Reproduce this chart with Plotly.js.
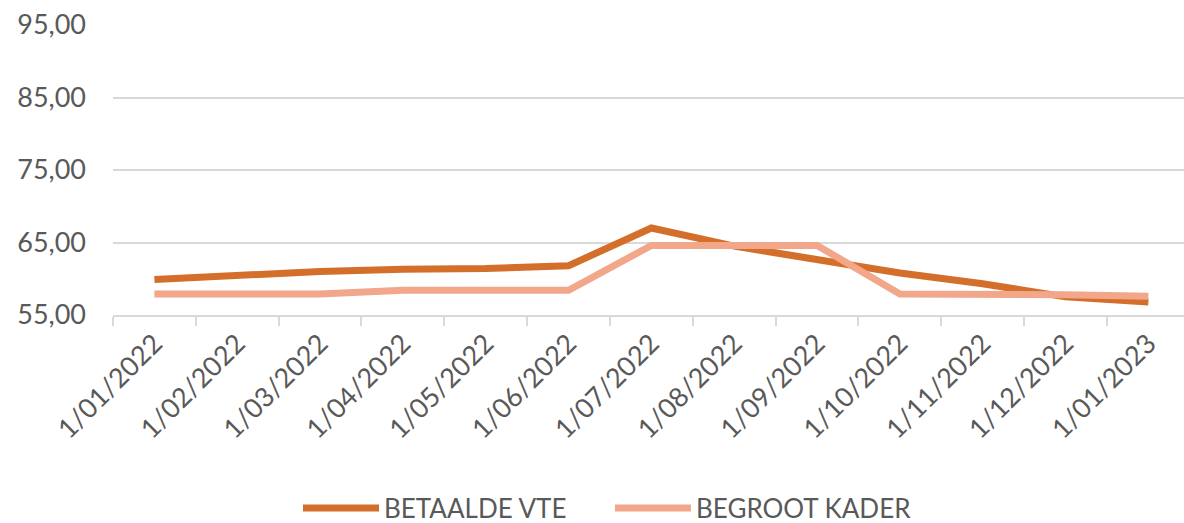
<!DOCTYPE html>
<html>
<head>
<meta charset="utf-8">
<script src="https://cdn.plot.ly/plotly-3.0.1.min.js"></script>
<style>html,body{margin:0;padding:0;background:#fff;}#chart{width:1184px;height:523px;}</style>
</head>
<body>
<div id="chart"></div>
<script>
const categories = ["1/01/2022","1/02/2022","1/03/2022","1/04/2022","1/05/2022","1/06/2022","1/07/2022","1/08/2022","1/09/2022","1/10/2022","1/11/2022","1/12/2022","1/01/2023"];
const betaaldeVTE = [59.9, 60.5, 61.0, 61.3, 61.4, 61.8, 67.0, 64.5, 62.6, 60.8, 59.3, 57.5, 56.8];
const begrootKader = [57.9, 57.9, 57.9, 58.4, 58.4, 58.4, 64.6, 64.6, 64.6, 57.9, 57.9, 57.8, 57.6];
const yTicks = [55, 65, 75, 85, 95];

const font = "Lato, 'Open Sans', sans-serif";
const traces = [
  {x: categories, y: betaaldeVTE, name: "BETAALDE VTE", type: "scatter", mode: "lines",
   line: {color: "#D46F2B", width: 7}},
  {x: categories, y: begrootKader, name: "BEGROOT KADER", type: "scatter", mode: "lines",
   line: {color: "#F2A68A", width: 7}}
];
const layout = {
  width: 1184, height: 523,
  margin: {l: 113, r: 0, t: 25, b: 208},
  paper_bgcolor: "#fff", plot_bgcolor: "#fff",
  separators: ",.",
  font: {family: font, size: 27, color: "#595959"},
  showlegend: true,
  legend: {orientation: "h", xref: "container", yref: "container",
           x: 298 / 1184, xanchor: "left", y: 1 - 508 / 523, yanchor: "middle",
           font: {family: font, size: 26, color: "#595959"}, itemwidth: 76, tracegroupgap: 0,
           entrywidth: 221, entrywidthmode: "pixels"},
  xaxis: {type: "category", range: [-0.5, 12.43], tickson: "boundaries", automargin: false,
          ticks: "outside", ticklen: 9, tickwidth: 2, tickcolor: "#D9D9D9",
          showline: true, linecolor: "#D9D9D9", linewidth: 2, showgrid: false,
          tickangle: -45, tickfont: {family: font, size: 27, color: "#595959"}, fixedrange: true},
  yaxis: {range: [55, 95], tickvals: yTicks, tickformat: ".2f", showgrid: true, automargin: false,
          gridcolor: "#D9D9D9", gridwidth: 2, zeroline: false, showline: false, ticks: "",
          ticklabelstandoff: 26, tickfont: {family: font, size: 27, color: "#595959"}, fixedrange: true}
};
Plotly.newPlot("chart", traces, layout, {displayModeBar: false, staticPlot: true});
</script>
</body>
</html>
